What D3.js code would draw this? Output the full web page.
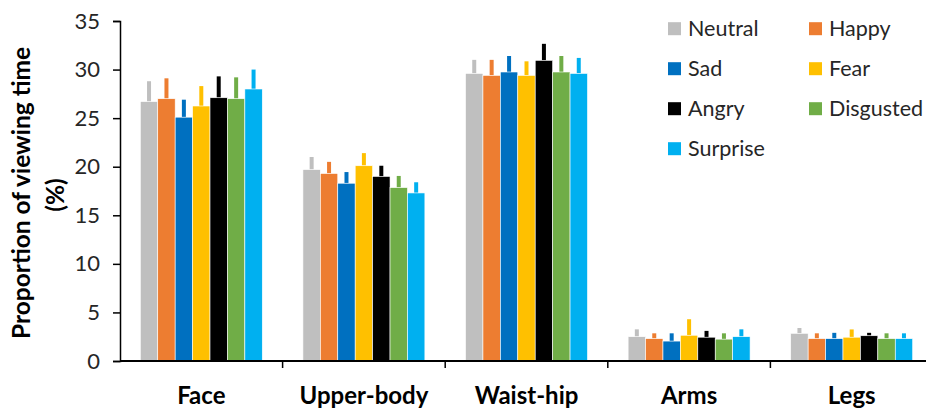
<!DOCTYPE html>
<html>
<head>
<meta charset="utf-8">
<script src="https://cdn.jsdelivr.net/npm/d3@7"></script>
<style>
  html, body { margin: 0; padding: 0; background: #fff; }
  svg { display: block; font-family: Lato, "Open Sans", sans-serif; }
</style>
</head>
<body>
<svg id="chart" width="926" height="408"></svg>
<script>
// ---- data ----
const categories = ["Face", "Upper-body", "Waist-hip", "Arms", "Legs"];
const emotions = ["Neutral", "Happy", "Sad", "Fear", "Angry", "Disgusted", "Surprise"];
const colors = ["#BFBFBF", "#ED7D31", "#0070C0", "#FFC000", "#000000", "#70AD47", "#00B0F0"];

const neutral   = [26.7, 19.7, 29.6, 2.5, 2.85];
const happy     = [27.0, 19.3, 29.4, 2.3, 2.3];
const sad       = [25.1, 18.3, 29.75, 2.05, 2.3];
const fear      = [26.25, 20.1, 29.4, 2.65, 2.45];
const angry     = [27.1, 19.0, 30.95, 2.45, 2.6];
const disgusted = [27.0, 17.85, 29.75, 2.25, 2.3];
const surprise  = [28.0, 17.3, 29.6, 2.5, 2.3];

const neutralErr   = [2.1, 1.3, 1.4, 0.76, 0.55];
const happyErr     = [2.1, 1.2, 1.6, 0.55, 0.55];
const sadErr       = [1.8, 1.15, 1.65, 0.8, 0.6];
const fearErr      = [2.05, 1.3, 1.45, 1.65, 0.8];
const angryErr     = [2.2, 1.1, 1.7, 0.65, 0.3];
const disgustedErr = [2.2, 1.2, 1.65, 0.6, 0.55];
const surpriseErr  = [2.0, 1.1, 1.6, 0.76, 0.55];

const yTicks = [0, 5, 10, 15, 20, 25, 30, 35];
const yTitle = ["Proportion of viewing time", "(%)"];

const seriesValues = [neutral, happy, sad, fear, angry, disgusted, surprise];
const seriesErrors = [neutralErr, happyErr, sadErr, fearErr, angryErr, disgustedErr, surpriseErr];

// ---- scales ----
const svg = d3.select("#chart");
const x0 = d3.scaleBand().domain(categories).range([120, 933]).paddingInner(0.25).paddingOuter(0.125);
const x1 = d3.scaleBand().domain(emotions).range([0, x0.bandwidth()]);
const y = d3.scaleLinear().domain([0, 35]).range([361, 21]);
const color = d3.scaleOrdinal().domain(emotions).range(colors);

const rows = [];
categories.forEach((c, ci) => {
  emotions.forEach((e, ei) => {
    rows.push({ cat: c, emo: e, v: seriesValues[ei][ci], err: seriesErrors[ei][ci] });
  });
});

// ---- error bars ----
svg.append("g").selectAll("line").data(rows).join("line")
  .attr("x1", d => x0(d.cat) + x1(d.emo) + x1.bandwidth() / 2)
  .attr("x2", d => x0(d.cat) + x1(d.emo) + x1.bandwidth() / 2)
  .attr("y1", d => y(d.v))
  .attr("y2", d => y(d.v + d.err))
  .attr("stroke", d => color(d.emo))
  .attr("stroke-width", 4);

// ---- bars ----
svg.append("g").selectAll("rect").data(rows).join("rect")
  .attr("x", d => x0(d.cat) + x1(d.emo))
  .attr("y", d => y(d.v))
  .attr("width", x1.bandwidth())
  .attr("height", d => y(0) - y(d.v))
  .attr("fill", d => color(d.emo))
  .attr("stroke", "#fff")
  .attr("stroke-width", 0.6);

// ---- y axis ----
const yAxis = svg.append("g").attr("transform", "translate(120,0)")
  .call(d3.axisLeft(y).tickValues(yTicks).tickSize(7).tickPadding(13));
yAxis.select(".domain").attr("stroke", "#000").attr("stroke-width", 1.5);
yAxis.selectAll(".tick line").attr("stroke", "#000").attr("stroke-width", 1.5);
yAxis.selectAll("text").attr("font-size", 22).attr("fill", "#262626")
  .attr("font-family", "Lato, 'Open Sans', sans-serif");

// ---- x axis ----
const xr = x0.range();
svg.append("line").attr("x1", xr[0]).attr("x2", xr[1]).attr("y1", y(0)).attr("y2", y(0))
  .attr("stroke", "#000").attr("stroke-width", 2);
svg.append("g").selectAll("line").data(categories.slice(1)).join("line")
  .attr("x1", (d) => x0(d) - x0.step() * x0.paddingInner() / 2)
  .attr("x2", (d) => x0(d) - x0.step() * x0.paddingInner() / 2)
  .attr("y1", y(0)).attr("y2", y(0) + 7)
  .attr("stroke", "#000").attr("stroke-width", 1.5);
svg.append("g").selectAll("text").data(categories).join("text")
  .attr("x", d => x0(d) + x0.bandwidth() / 2)
  .attr("y", 404)
  .attr("text-anchor", "middle")
  .attr("font-size", 24).attr("font-weight", "bold").attr("fill", "#000")
  .text(d => d);

// ---- y title ----
const yt = svg.append("g").attr("transform", "translate(0,193)");
yt.append("text").attr("transform", "translate(30,0) rotate(-90)")
  .attr("text-anchor", "middle").attr("font-size", 24.5).attr("font-weight", "bold").attr("fill", "#000")
  .text(yTitle[0]);
yt.append("text").attr("transform", "translate(64,2) rotate(-90)")
  .attr("text-anchor", "middle").attr("font-size", 24.5).attr("font-weight", "bold").attr("fill", "#000")
  .text(yTitle[1]);

// ---- legend ----
const legCols = [668, 809];
const legRow0 = 28.7, legRowStep = 40;
const leg = svg.append("g").selectAll("g").data(emotions).join("g")
  .attr("transform", (d, i) => `translate(${legCols[i % 2]},${legRow0 + Math.floor(i / 2) * legRowStep})`);
leg.append("rect").attr("x", 0).attr("y", -6.5).attr("width", 13).attr("height", 13)
  .attr("fill", d => color(d));
leg.append("text").attr("x", 20).attr("y", 0).attr("dy", "0.35em")
  .attr("font-size", 21.5).attr("fill", "#262626").text(d => d);
</script>
</body>
</html>
